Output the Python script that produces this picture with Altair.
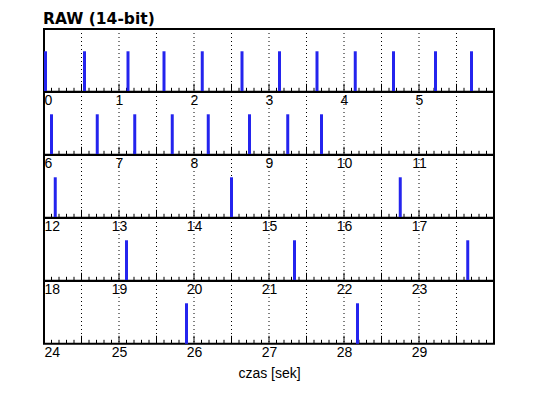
import altair as alt
import numpy as np
import pandas as pd

# spike times [s]
spike_times = [0.02, 0.54, 1.12, 1.60, 2.11, 2.64, 3.14, 3.64, 4.15, 4.66, 5.22, 5.70,
               6.10, 6.71, 7.21, 7.71, 8.19, 8.74, 9.25, 9.70,
               12.15, 14.50, 16.75,
               19.10, 21.34, 23.65,
               25.90, 28.18]
spike_values = [1.0] * len(spike_times)

row_len = 6
n_rows = 5
row_h = 62.8
plot_w = 450
y_max = 1.55
bar_color = "#2424EE"

df = pd.DataFrame({"t": spike_times, "v": spike_values})
df["row"] = (df["t"] // row_len).astype(int)

rows = []
for k in range(n_rows):
    lo, hi = k * row_len, (k + 1) * row_len
    dom = [lo, hi]
    last = k == n_rows - 1
    ax = alt.Axis(values=list(range(lo, hi)), labelFlush=True, ticks=False, grid=False,
                  domain=False, labelFontSize=14, labelFont="Liberation Sans",
                  labelColor="black", labelPadding=2,
                  title="czas [sek]" if last else None,
                  titleFontSize=14, titleFont="Liberation Sans", titleFontWeight="normal",
                  titleColor="black", titlePadding=7)
    xs = alt.Scale(domain=dom, nice=False, zero=False)

    d = df[df["row"] == k]
    halfs = pd.DataFrame({"g": np.arange(lo + 0.5, hi, 0.5)})
    tenths = np.round(np.arange(lo + 0.1, hi, 0.1), 1)
    minor = pd.DataFrame({"m": [x for x in tenths if abs(x * 2 - round(x * 2)) > 1e-6]})

    grid = alt.Chart(halfs).mark_rule(color="black", strokeWidth=1, strokeDash=[1, 3]).encode(
        x=alt.X("g:Q", scale=xs, axis=ax))
    mticks = alt.Chart(minor).mark_rule(color="black", strokeWidth=1).encode(
        x=alt.X("m:Q", scale=xs, axis=ax), y=alt.value(row_h), y2=alt.value(row_h - 4))
    Mticks = alt.Chart(halfs).mark_rule(color="black", strokeWidth=1).encode(
        x=alt.X("g:Q", scale=xs, axis=ax), y=alt.value(row_h), y2=alt.value(row_h - 8))
    bars = alt.Chart(d).mark_rule(color=bar_color, strokeWidth=3).encode(
        x=alt.X("t:Q", scale=xs, axis=ax),
        y=alt.Y("v:Q", scale=alt.Scale(domain=[0, y_max], nice=False), axis=None),
        y2=alt.datum(0))
    rows.append(alt.layer(grid, mticks, Mticks, bars).properties(width=plot_w, height=row_h))

chart = alt.vconcat(*rows, spacing=0, bounds="flush").properties(
    title=alt.TitleParams("RAW (14-bit)", anchor="start", fontSize=15.5, font="DejaVu Sans",
                          fontWeight="bold", color="black", offset=0),
    padding={"left": 35, "top": 4, "right": 5, "bottom": 5},
).configure_view(stroke="black", strokeWidth=2)

chart.save("out.html", embed_options={"renderer": "svg", "actions": False})
